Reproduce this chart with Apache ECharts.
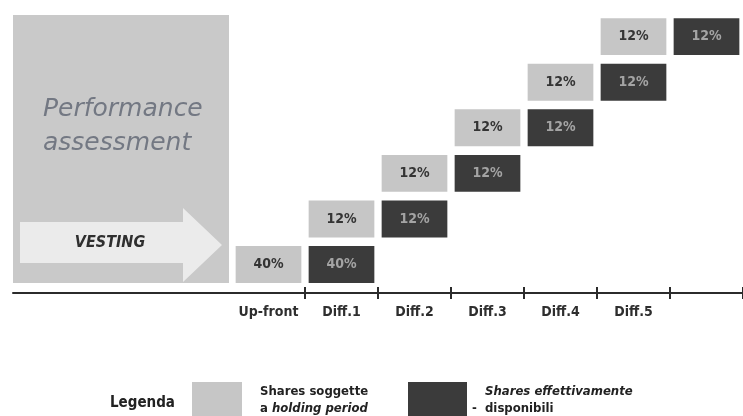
<!DOCTYPE html>
<html>
<head>
<meta charset="utf-8">
<script src="https://cdn.jsdelivr.net/npm/echarts@6/dist/echarts.min.js"></script>
<style>
  html, body { margin: 0; padding: 0; background: #ffffff; }
  #chart { width: 743px; height: 416px; }
</style>
</head>
<body>
<div id="chart"></div>
<script>
// Release schedule of the award, in % of shares
const periods = ['Up-front', 'Diff.1', 'Diff.2', 'Diff.3', 'Diff.4', 'Diff.5'];
const heldShares = [40, 12, 12, 12, 12, 12];       // shares subject to a holding period
const availableShares = [40, 12, 12, 12, 12, 12];  // same tranche, available one period later

// empty slots on the axis: under the performance panel, and after the last period
const leadSlots = ['', '', ''];
const tailSlots = [''];

const panelTitle = ['Performance', 'assessment'];
const arrowLabel = 'VESTING';
const legendTitle = 'Legenda';

const FONT = "'DejaVu Sans Condensed', 'DejaVu Sans', sans-serif";
const WIDE_FONT = "'DejaVu Sans', sans-serif";
const BOX_HEIGHT = 0.81;   // box height in level units
const BOX_FILL = 0.9;      // share of the category band used by a box

const axisCategories = leadSlots.concat(periods, tailSlots);
const first = leadSlots.length;

// [category index, level, value]
const heldData = heldShares.map((v, i) => [first + i, i, v]);
const availableData = availableShares.map((v, i) => [first + i + 1, i, v]);

function boxRenderer(fill, textFill) {
  return function (params, api) {
    const base = api.coord([api.value(0), api.value(1)]);
    const w = api.size([1, 0])[0] * BOX_FILL;
    const h = api.size([0, BOX_HEIGHT])[1];
    return {
      type: 'rect',
      shape: { x: base[0] - w / 2, y: base[1] - h, width: w, height: h },
      style: { fill: fill },
      textContent: {
        style: {
          text: api.value(2) + '%',
          fill: textFill,
          font: 'bold 14px ' + FONT
        }
      },
      textConfig: { position: 'inside' }
    };
  };
}

const tickInterval = (index) => index >= first + 1;
const tickStyle = { color: '#2b2b2b', width: 2 };

const chart = echarts.init(document.getElementById('chart'), null, { renderer: 'canvas' });

chart.setOption({
  animation: false,
  backgroundColor: '#ffffff',
  grid: { left: 13, right: 0, top: 10, bottom: 123 },
  xAxis: [
    {
      type: 'category',
      data: axisCategories,
      boundaryGap: true,
      axisLine: { onZero: false, lineStyle: { color: '#2b2b2b', width: 2 } },
      axisTick: { show: true, interval: tickInterval, length: 6, lineStyle: tickStyle },
      axisLabel: {
        interval: 0,
        margin: 12,
        color: '#2e2e2e',
        fontFamily: FONT,
        fontWeight: 'bold',
        fontSize: 14
      },
      splitLine: { show: false }
    },
    {
      type: 'category',
      data: axisCategories,
      position: 'bottom',
      boundaryGap: true,
      axisLine: { show: false, onZero: false },
      axisTick: { show: true, inside: true, interval: tickInterval, length: 6, lineStyle: tickStyle },
      axisLabel: { show: false },
      splitLine: { show: false }
    }
  ],
  yAxis: { type: 'value', min: -0.22, max: 5.99, show: false },
  series: [
    {
      name: 'Shares soggette a holding period',
      type: 'custom',
      xAxisIndex: 0,
      renderItem: boxRenderer('#c6c6c6', '#343434'),
      encode: { x: 0, y: 1 },
      data: heldData
    },
    {
      name: 'Shares effettivamente disponibili',
      type: 'custom',
      xAxisIndex: 0,
      renderItem: boxRenderer('#3b3b3b', '#a4a4a4'),
      encode: { x: 0, y: 1 },
      data: availableData
    }
  ],
  graphic: [
    // performance assessment panel with the vesting arrow
    { type: 'rect', z: -1, shape: { x: 13, y: 15, width: 216, height: 268 }, style: { fill: '#c9c9c9' } },
    {
      type: 'polygon', z: 0,
      shape: { points: [[20, 222], [183, 222], [183, 208], [222, 245], [183, 282], [183, 263], [20, 263]] },
      style: { fill: '#ebebeb' }
    },
    { type: 'text', x: 43, y: 109, style: { text: panelTitle[0], font: 'italic 25px ' + WIDE_FONT, fill: '#737883', align: 'left', verticalAlign: 'middle' } },
    { type: 'text', x: 43, y: 143, style: { text: panelTitle[1], font: 'italic 25px ' + WIDE_FONT, fill: '#737883', align: 'left', verticalAlign: 'middle' } },
    { type: 'text', x: 110, y: 243, style: { text: arrowLabel, font: 'italic bold 16px ' + FONT, fill: '#2f2f2f', align: 'center', verticalAlign: 'middle' } },

    // legend
    { type: 'text', x: 110, y: 403, style: { text: legendTitle, font: 'bold 15px ' + FONT, fill: '#222222', align: 'left', verticalAlign: 'middle' } },
    { type: 'rect', shape: { x: 192, y: 382, width: 50, height: 34 }, style: { fill: '#c6c6c6' } },
    { type: 'text', x: 260, y: 392, style: { text: 'Shares soggette', font: 'bold 13px ' + FONT, fill: '#222222', align: 'left', verticalAlign: 'middle' } },
    {
      type: 'text', x: 260, y: 409,
      style: {
        text: 'a {i|holding period}',
        font: 'bold 13px ' + FONT, fill: '#222222', align: 'left', verticalAlign: 'middle',
        rich: { i: { font: 'italic bold 13px ' + FONT, fill: '#222222' } }
      }
    },
    { type: 'rect', shape: { x: 408, y: 382, width: 59, height: 34 }, style: { fill: '#3b3b3b' } },
    { type: 'text', x: 472, y: 409, style: { text: '-', font: 'bold 13px ' + FONT, fill: '#222222', align: 'left', verticalAlign: 'middle' } },
    { type: 'text', x: 485, y: 392, style: { text: 'Shares effettivamente', font: 'italic bold 13px ' + FONT, fill: '#222222', align: 'left', verticalAlign: 'middle' } },
    { type: 'text', x: 485, y: 409, style: { text: 'disponibili', font: 'bold 13px ' + FONT, fill: '#222222', align: 'left', verticalAlign: 'middle' } }
  ]
});
</script>
</body>
</html>
